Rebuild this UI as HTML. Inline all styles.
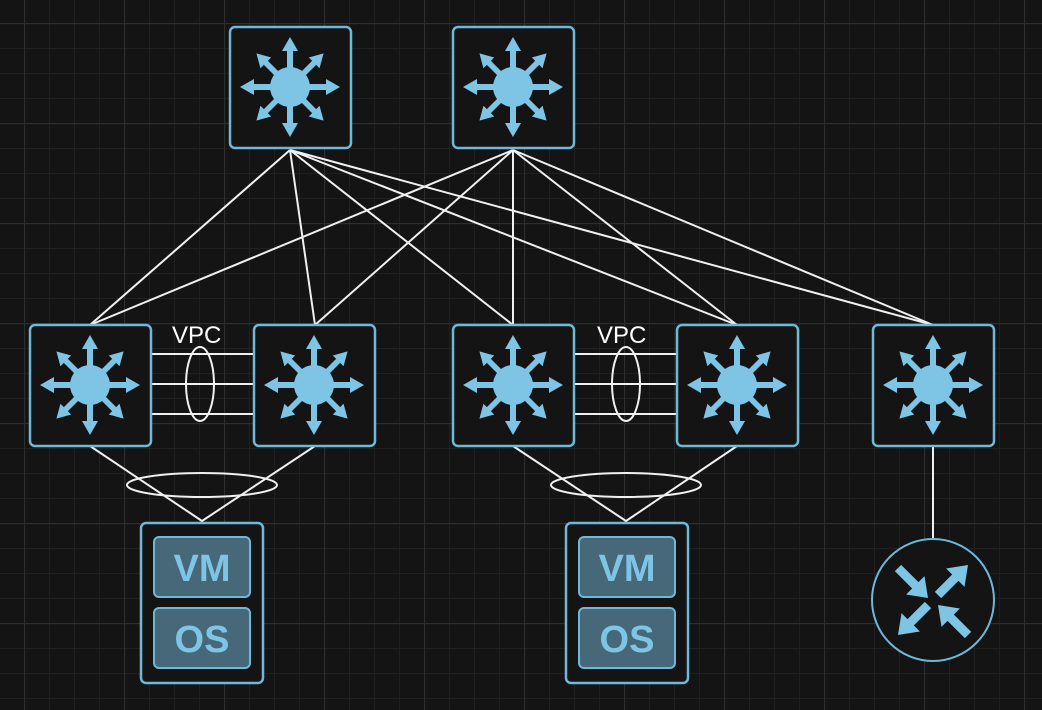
<!DOCTYPE html>
<html><head><style>
html,body{margin:0;padding:0;background:#141414;}
svg{display:block}
</style></head><body>
<svg width="1042" height="710" viewBox="0 0 1042 710" xmlns="http://www.w3.org/2000/svg">
<defs>
<pattern id="minor" width="25" height="25" patternUnits="userSpaceOnUse" x="24" y="23">
<path d="M0 0.5H25M0.5 0V25" stroke="#202020" stroke-width="1" fill="none"/>
</pattern>
<pattern id="major" width="100" height="100" patternUnits="userSpaceOnUse" x="24" y="23">
<path d="M0 0.5H100M0.5 0V100" stroke="#2e2e2e" stroke-width="1.2" fill="none"/>
</pattern>
<g id="arr">
<rect x="-3" y="-40" width="6" height="40" fill="#7ec4e4"/>
<polygon points="0,-50 -8,-36 8,-36" fill="#7ec4e4"/>
</g>
<g id="sw">
<rect x="-60" y="-60" width="121" height="121" rx="5" fill="#141414" stroke="#6fb8d8" stroke-width="2.5"/>
<circle r="20" fill="#7ec4e4"/>
<use href="#arr"/>
<use href="#arr" transform="rotate(90)"/>
<use href="#arr" transform="rotate(180)"/>
<use href="#arr" transform="rotate(270)"/>
<use href="#arr" transform="rotate(45) scale(0.95)"/>
<use href="#arr" transform="rotate(135) scale(0.95)"/>
<use href="#arr" transform="rotate(225) scale(0.95)"/>
<use href="#arr" transform="rotate(315) scale(0.95)"/>
</g>
</defs>
<rect width="1042" height="710" fill="#141414"/>
<rect width="1042" height="710" fill="url(#minor)"/>
<rect width="1042" height="710" fill="url(#major)"/>

<g stroke="#f0f0f0" stroke-width="2" fill="none">
<path d="M290 150L90 325M290 150L315 325M290 150L513 325M290 150L737 325M290 150L933 325"/>
<path d="M513 150L90 325M513 150L315 325M513 150L513 325M513 150L737 325M513 150L933 325"/>
<path d="M151 354H253M151 384H253M151 414H253"/>
<path d="M575 354H677M575 384H677M575 414H677"/>
<ellipse cx="200" cy="384" rx="14" ry="37"/>
<ellipse cx="626" cy="384" rx="14" ry="37"/>
<path d="M90 446L202 521L315 446"/>
<path d="M513 446L626 521L737 446"/>
<ellipse cx="202" cy="485" rx="75" ry="12"/>
<ellipse cx="626" cy="485" rx="75" ry="12"/>
<path d="M933 446V538"/>
</g>
<g font-family="Liberation Sans, sans-serif" font-size="24" fill="#fff">
<text x="172" y="343">VPC</text>
<text x="597" y="343">VPC</text>
</g>

<use href="#sw" x="290" y="87"/>
<use href="#sw" x="513" y="87"/>
<use href="#sw" x="90" y="385"/>
<use href="#sw" x="314" y="385"/>
<use href="#sw" x="513" y="385"/>
<use href="#sw" x="737" y="385"/>
<use href="#sw" x="933" y="385"/>

<g>
<rect x="141" y="523" width="122" height="160" rx="5" fill="#141414" stroke="#6fb8d8" stroke-width="2.5"/>
<rect x="154" y="537" width="96" height="60" rx="5" fill="#466879" stroke="#6fb8d8" stroke-width="2"/>
<rect x="154" y="608" width="96" height="60" rx="5" fill="#466879" stroke="#6fb8d8" stroke-width="2"/>
<rect x="566" y="523" width="122" height="160" rx="5" fill="#141414" stroke="#6fb8d8" stroke-width="2.5"/>
<rect x="579" y="537" width="96" height="60" rx="5" fill="#466879" stroke="#6fb8d8" stroke-width="2"/>
<rect x="579" y="608" width="96" height="60" rx="5" fill="#466879" stroke="#6fb8d8" stroke-width="2"/>
</g>
<g font-family="Liberation Sans, sans-serif" font-size="38" font-weight="bold" fill="#7ec4e4" text-anchor="middle">
<text x="202" y="581">VM</text>
<text x="202" y="652">OS</text>
<text x="627" y="581">VM</text>
<text x="627" y="652">OS</text>
</g>

<circle cx="933" cy="600" r="61" fill="#141414" stroke="#6fb8d8" stroke-width="2"/>
<g stroke="#7ec4e4" stroke-width="9" fill="none">
<path d="M898 568L917 587M938 595L957 576M928 605L909 624M968 635L949 616"/>
</g>
<g fill="#7ec4e4">
<polygon points="928,598 906.1,594.5 924.5,576.1"/>
<polygon points="968,565 964.5,586.9 946.1,568.5"/>
<polygon points="898,635 919.9,631.5 901.5,613.1"/>
<polygon points="938,605 941.5,626.9 959.9,608.5"/>
</g>
</svg>
</body></html>
